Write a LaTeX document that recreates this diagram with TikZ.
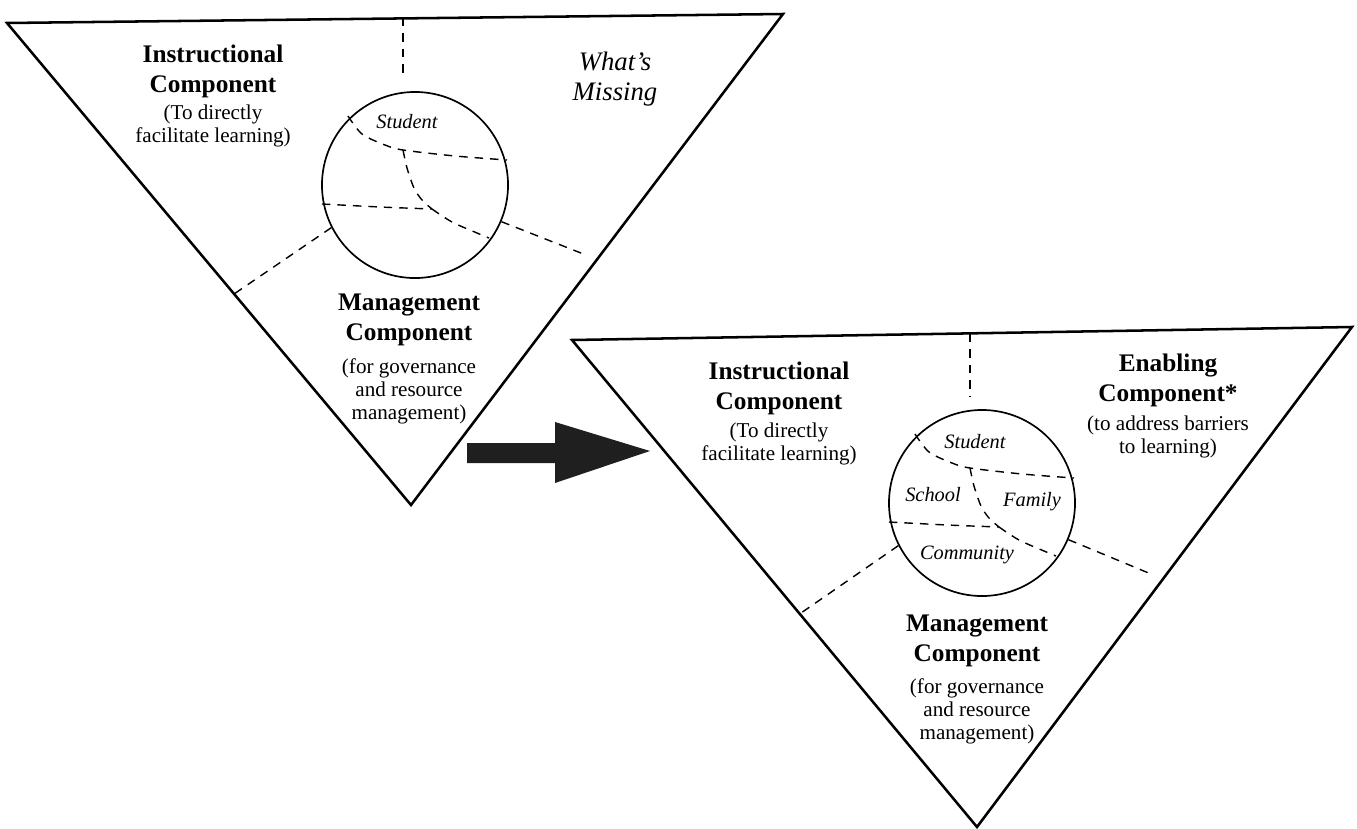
\documentclass[tikz,border=0pt]{standalone}
\usepackage{fontspec}
\setmainfont{Liberation Serif}
\usetikzlibrary{positioning}

\begin{document}
\begin{tikzpicture}[x=0.025cm, y=-0.025cm,
		tri/.style={line width=1.8pt, line join=miter},
		ring/.style={draw, circle, line width=1.2pt, inner sep=0, minimum size=4.65cm},
		cut/.style={line width=1pt, dash pattern=on 6pt off 5pt},
		head/.style={anchor=north, inner sep=0, align=center, font=\fontsize{18}{21.3}\selectfont\bfseries},
		note/.style={anchor=north, inner sep=0, align=center, font=\fontsize{15}{16.4}\selectfont},
		place/.style={inner sep=0, font=\fontsize{14.5}{16}\selectfont\itshape}
		]
		\useasboundingbox (0,0) rectangle (1357,829);

		% the two triangles
		\coordinate (oldTL) at (7,23);
		\coordinate (oldTR) at (783,14);
		\coordinate (oldB) at (411,505);
		\coordinate (newTL) at (572,340);
		\coordinate (newTR) at (1352,327);
		\coordinate (newB) at (977,827);
		\draw[tri] (oldTL) -- (oldTR) -- (oldB) -- cycle;
		\draw[tri] (newTL) -- (newTR) -- (newB) -- cycle;

		% the circles with their regions
		\node[ring] (oldc) at (415,185) {};
		\node[ring] (newc) at (982,503) {};
		\foreach \c in {oldc, newc} {
			\begin{scope}[shift={(\c.center)}]
				\draw[cut] plot[smooth] coordinates {(-67,-69) (-53,-51) (-30,-40) (-12,-35) (40,-29) (92,-25)};
				\draw[cut] plot[smooth] coordinates {(-12,-35) (-8,-17) (-1,3) (7,15) (17,24)};
				\draw[cut] plot[smooth] coordinates {(-93,19) (-35,22) (17,24)};
				\draw[cut] plot[smooth] coordinates {(17,24) (37,37) (62,48) (74,53)};
			\end{scope}
		}

		% dashed dividers outside the circles
		\coordinate (oldtop) at (403,18);
		\coordinate (oldtopend) at (403,78);
		\coordinate (oldleft) at (234,294);
		\coordinate (oldright) at (586,255);
		\coordinate (newtop) at (970,334);
		\coordinate (newtopend) at (970,397);
		\coordinate (newleft) at (801,613);
		\coordinate (newright) at (1151,574);
		\draw[cut] (oldtop) -- (oldtopend);
		\draw[cut] (oldc.207) -- (oldleft);
		\draw[cut] (oldc.337) -- (oldright);
		\draw[cut] (newtop) -- (newtopend);
		\draw[cut] (newc.207) -- (newleft);
		\draw[cut] (newc.337) -- (newright);

		% labels, first triangle
		\node[head] (oldinstr) at (213,45) {Instructional\\Component};
		\node[note] (oldinstrnote) at (213,105) {(To directly\\facilitate learning)};
		\node[anchor=north, inner sep=0, align=center, font=\fontsize{19}{21.3}\selectfont\itshape] (missing) at (615,52) {What's\\Missing};
		\node[place] (oldstudent) at (407,122) {Student};
		\node[head] (oldmgmt) at (409,294) {Management\\Component};
		\node[note] (oldmgmtnote) at (409,358) {(for governance\\and resource\\management)};

		% labels, second triangle
		\node[head] (newinstr) at (779,362) {Instructional\\Component};
		\node[note] (newinstrnote) at (779,423) {(To directly\\facilitate learning)};
		\node[head] (enabling) at (1168,354) {Enabling\\Component*};
		\node[note] (enablingnote) at (1168,416) {(to address barriers\\to learning)};
		\node[place] (student) at (975,442) {Student};
		\node[place] (school) at (933,495) {School};
		\node[place] (family) at (1032,502) {Family};
		\node[place] (community) at (967,555) {Community};
		\node[head] (newmgmt) at (977,615) {Management\\Component};
		\node[note] (newmgmtnote) at (977,678) {(for governance\\and resource\\management)};

		% the arrow between them
		\fill[black!88] (467,443) -- (555,443) -- (555,422) -- (650,451) -- (555,483) -- (555,463) -- (467,463) -- cycle;
	\end{tikzpicture}
\end{document}
